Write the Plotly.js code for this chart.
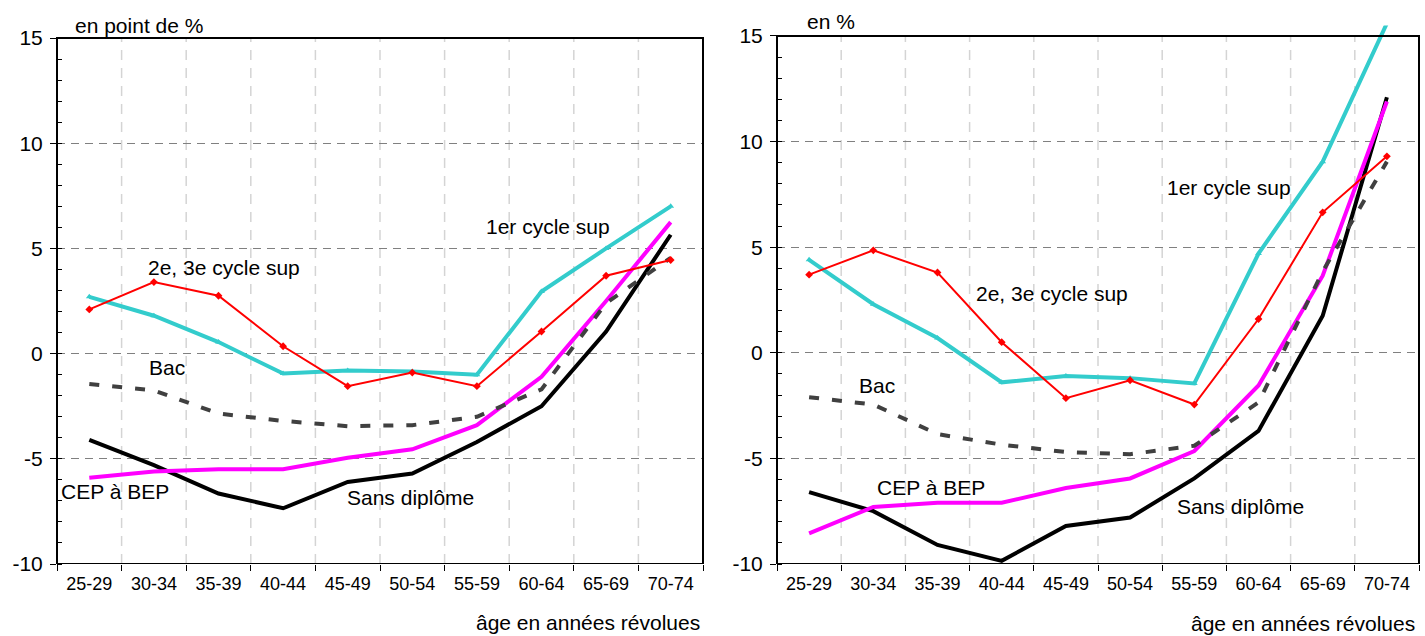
<!DOCTYPE html>
<html>
<head>
<meta charset="utf-8">
<script src="https://cdn.plot.ly/plotly-3.0.1.min.js"></script>
<style>
html,body{margin:0;padding:0;background:#fff;}
#chart{width:1425px;height:636px;}
</style>
</head>
<body>
<div id="chart"></div>
<script>
// Categories
const ages = ['25-29','30-34','35-39','40-44','45-49','50-54','55-59','60-64','65-69','70-74'];

// Left panel (en point de %)
const leftSup1  = [2.7, 1.8, 0.55, -0.95, -0.8, -0.85, -1.0, 2.95, 5.0, 7.0];
const leftSup23 = [2.1, 3.4, 2.75, 0.35, -1.55, -0.9, -1.55, 1.05, 3.7, 4.45];
const leftBac   = [-1.45, -1.75, -2.85, -3.2, -3.45, -3.4, -3.0, -1.7, 2.4, 4.55];
const leftCep   = [-5.9, -5.6, -5.5, -5.5, -4.95, -4.55, -3.4, -1.1, 2.5, 6.25];
const leftSans  = [-4.1, -5.3, -6.65, -7.35, -6.1, -5.7, -4.2, -2.5, 1.05, 5.65];

// Right panel (en %)
const rightSup1  = [4.4, 2.3, 0.7, -1.4, -1.1, -1.2, -1.45, 4.7, 9.05, 15.6];
const rightSup23 = [3.7, 4.85, 3.8, 0.5, -2.15, -1.3, -2.45, 1.6, 6.65, 9.3];
const rightBac   = [-2.1, -2.45, -3.85, -4.35, -4.7, -4.8, -4.4, -2.35, 3.85, 9.05];
const rightCep   = [-8.55, -7.3, -7.1, -7.1, -6.4, -5.95, -4.65, -1.55, 3.65, 11.9];
const rightSans  = [-6.6, -7.5, -9.1, -9.85, -8.2, -7.8, -5.95, -3.7, 1.75, 12.1];

const yTicks = [-10, -5, 0, 5, 10, 15];

const FONT = 'Liberation Sans, Arial, sans-serif';
const W = 1425, H = 636;

function series(x, y, xa, ya, style) {
  return Object.assign({x: x, y: y, xaxis: xa, yaxis: ya, type: 'scatter', showlegend: false, hoverinfo: 'skip'}, style);
}
const stSans = {mode: 'lines', line: {color: '#000000', width: 4}};
const stCep  = {mode: 'lines', line: {color: '#FF00FF', width: 4}};
const stBac  = {mode: 'lines', line: {color: '#404040', width: 4, dash: '10px,13px'}};
const stSup1 = {mode: 'lines+markers', line: {color: '#33CCCC', width: 4}, marker: {symbol: 'triangle-up', size: 6, color: '#33CCCC'}};
const stSup23= {mode: 'lines+markers', line: {color: '#FF0000', width: 2}, marker: {symbol: 'diamond', size: 6, color: '#FF0000'}};

const data = [
  series(ages, leftSans, 'x', 'y', stSans),
  series(ages, leftCep, 'x', 'y', stCep),
  series(ages, leftBac, 'x', 'y', stBac),
  series(ages, leftSup1, 'x', 'y', stSup1),
  series(ages, leftSup23, 'x', 'y', stSup23),
  series(ages, rightSans, 'x2', 'y2', stSans),
  series(ages, rightCep, 'x2', 'y2', stCep),
  series(ages, rightBac, 'x2', 'y2', stBac),
  series(ages, rightSup1, 'x2', 'y2', stSup1),
  series(ages, rightSup23, 'x2', 'y2', stSup23)
];

function xAxis(domain, anchor) {
  return {
    domain: domain, anchor: anchor, type: 'category',
    categoryorder: 'array', categoryarray: ages,
    range: [-0.5, ages.length - 0.5],
    tickson: 'boundaries', ticks: 'outside', ticklen: 6, tickcolor: '#000', tickwidth: 1,
    showgrid: false, showline: false, zeroline: false,
    tickfont: {family: FONT, size: 18, color: '#000'},
    ticklabelstandoff: 7, fixedrange: true
  };
}
function yAxis(domain, anchor) {
  return {
    domain: domain, anchor: anchor, range: [-10, 15.5],
    tickmode: 'array', tickvals: yTicks, ticktext: yTicks.map(String),
    ticks: 'outside', ticklen: 6, tickcolor: '#000', tickwidth: 1,
    showgrid: true, gridcolor: '#808080', gridwidth: 1, griddash: '8px,6px',
    zeroline: false, showline: false,
    minor: {dtick: 1, tick0: 0, ticks: 'inside', ticklen: 5, tickcolor: '#000', tickwidth: 1, showgrid: false},
    tickfont: {family: FONT, size: 21, color: '#000'},
    ticklabelstandoff: 3, fixedrange: true
  };
}

const bottom = (H - 564) / H;
const layout = {
  width: W, height: H,
  margin: {l: 0, r: 0, t: 0, b: 0},
  paper_bgcolor: '#fff', plot_bgcolor: 'rgba(0,0,0,0)',
  font: {family: FONT, color: '#000'},
  xaxis: xAxis([57 / W, 703 / W], 'y'),
  yaxis: yAxis([bottom, (H - 27.5) / H], 'x'),
  xaxis2: xAxis([777 / W, 1419 / W], 'y2'),
  yaxis2: yAxis([bottom, (H - 25.4) / H], 'x2'),
  shapes: [],
  annotations: []
};

// vertical light dashed gridlines at category boundaries, limited to the frame
[['x', 'y'], ['x2', 'y2']].forEach(function (p) {
  for (let i = 1; i < ages.length; i++) {
    layout.shapes.push({type: 'line', xref: p[0], yref: p[1], x0: i - 0.5, x1: i - 0.5, y0: -10, y1: 15,
      line: {color: '#d4d4d4', width: 1.5, dash: '10px,8px'}, layer: 'below'});
  }
  layout.shapes.push({type: 'rect', xref: p[0] + ' domain', yref: p[1], x0: 0, x1: 1, y0: -10, y1: 15,
    line: {color: '#000', width: 2}, layer: 'above'});
});

function note(text, xpx, ypx, anchor, size) {
  layout.annotations.push({text: text, xref: 'paper', yref: 'paper', x: xpx / W, y: 1 - ypx / H,
    xanchor: anchor || 'left', yanchor: 'middle', showarrow: false,
    font: {family: FONT, size: size || 21, color: '#000'}});
}
// left panel labels
note('en point de %', 73, 25);
note('2e, 3e cycle sup', 146, 267);
note('1er cycle sup', 484, 227);
note('Bac', 147, 367);
note('CEP à BEP', 59, 491);
note('Sans diplôme', 345, 497);
note('âge en années révolues', 702, 622, 'right');
// right panel labels
note('en %', 805, 22);
note('2e, 3e cycle sup', 974, 293);
note('1er cycle sup', 1165, 187);
note('Bac', 857, 385);
note('CEP à BEP', 875, 487);
note('Sans diplôme', 1175, 506);
note('âge en années révolues', 1417, 623, 'right');

Plotly.newPlot('chart', data, layout, {staticPlot: true, displayModeBar: false});
</script>
</body>
</html>
